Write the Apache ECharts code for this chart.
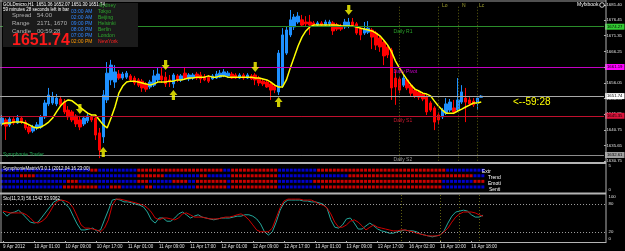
<!DOCTYPE html>
<html><head><meta charset="utf-8">
<script src="https://cdn.jsdelivr.net/npm/echarts@6/dist/echarts.min.js"></script>
<style>html,body{margin:0;padding:0;background:#000;}#c{width:625px;height:251px;}</style>
</head><body><div id="c"></div><script>
const timeLabels = ['9 Apr 2012','10 Apr 01:00','10 Apr 09:00','10 Apr 17:00','11 Apr 01:00','11 Apr 09:00','11 Apr 17:00','12 Apr 01:00','12 Apr 09:00','12 Apr 17:00','13 Apr 01:00','13 Apr 09:00','13 Apr 17:00','16 Apr 02:00','16 Apr 10:00','16 Apr 18:00'];
const opens = [1642.7,1644.0,1642.4,1644.3,1643.0,1644.6,1643.3,1641.7,1640.4,1641.4,
1641.7,1645.0,1649.2,1649.5,1649.2,1650.8,1649.8,1647.2,1646.6,1645.3,
1644.0,1642.7,1643.7,1645.0,1644.6,1639.8,1638.5,1650.5,1657.0,1656.3,
1658.9,1657.6,1657.9,1658.3,1657.6,1657.0,1656.6,1655.7,1654.7,1655.3,
1657.0,1658.3,1657.9,1657.0,1655.7,1658.3,1657.0,1659.2,1657.3,1657.6,
1658.9,1658.6,1657.9,1657.9,1657.3,1657.6,1657.9,1658.3,1658.3,1658.9,
1658.6,1657.6,1658.6,1657.6,1658.3,1658.6,1657.6,1656.6,1656.3,1655.7,
1655.0,1653.1,1655.0,1665.7,1671.6,1674.2,1675.8,1676.5,1675.8,1675.8,
1675.5,1674.8,1675.5,1674.8,1675.2,1675.5,1674.8,1674.5,1674.2,1674.5,
1675.8,1675.2,1673.8,1672.2,1672.5,1673.2,1672.2,1670.6,1669.3,1667.7,
1666.7,1657.6,1657.3,1655.3,1657.0,1655.3,1653.7,1653.1,1652.4,1651.4,
1649.5,1647.9,1645.6,1645.0,1646.2,1647.2,1647.9,1647.2,1649.8,1651.1,
1650.5,1650.1,1649.5,1651.36];
const closes = [1644.6,1642.0,1644.3,1643.0,1644.6,1643.3,1641.4,1640.1,1641.7,1642.4,
1645.0,1649.5,1652.1,1651.4,1651.1,1648.9,1646.6,1645.0,1644.0,1642.7,
1641.7,1644.6,1645.3,1644.0,1639.1,1634.2,1652.1,1659.2,1661.8,1659.6,
1657.6,1658.9,1659.2,1657.0,1656.0,1655.3,1654.4,1654.0,1656.3,1658.3,
1658.9,1657.0,1655.7,1656.3,1658.6,1657.0,1658.3,1657.6,1658.6,1658.6,
1657.6,1657.3,1657.0,1656.6,1658.3,1658.9,1659.2,1659.6,1659.2,1657.6,
1657.6,1658.6,1657.6,1658.6,1657.3,1657.0,1656.0,1655.7,1654.7,1653.7,
1653.7,1665.7,1671.6,1673.2,1676.5,1677.4,1677.7,1674.8,1675.2,1674.8,
1674.8,1675.5,1674.8,1675.8,1675.8,1672.9,1673.5,1673.5,1675.8,1675.8,
1674.8,1672.2,1671.6,1673.5,1673.8,1670.9,1668.3,1667.7,1664.8,1665.1,
1654.4,1654.7,1653.7,1657.6,1654.4,1652.7,1651.8,1651.4,1650.8,1646.6,
1647.2,1643.3,1644.0,1647.2,1649.2,1649.8,1646.6,1650.5,1653.1,1649.8,
1649.2,1648.9,1651.1,1651.74];
const highs = [1645.6,1644.6,1644.9,1644.9,1645.6,1645.3,1644.0,1642.4,1642.4,1643.3,
1645.6,1650.5,1654.4,1653.1,1652.4,1651.8,1650.8,1648.5,1647.2,1645.9,
1645.3,1645.3,1646.2,1645.6,1645.3,1641.4,1653.7,1662.8,1663.5,1661.8,
1660.2,1659.6,1659.9,1658.9,1658.3,1657.6,1657.3,1656.3,1657.0,1660.2,
1660.9,1661.2,1659.6,1658.6,1659.2,1658.9,1658.9,1661.2,1659.2,1659.2,
1659.6,1659.6,1658.9,1658.6,1658.9,1659.9,1660.2,1660.5,1659.9,1659.6,
1659.2,1659.2,1659.2,1659.2,1658.9,1659.2,1658.3,1657.3,1657.0,1656.3,
1655.7,1666.7,1673.8,1674.2,1679.7,1678.4,1679.0,1678.1,1677.7,1678.1,
1676.1,1676.1,1676.1,1676.5,1676.5,1676.1,1675.5,1675.2,1676.8,1677.1,
1677.1,1675.8,1674.5,1675.8,1676.1,1673.8,1672.9,1671.6,1669.9,1668.3,
1667.4,1660.2,1657.9,1658.6,1657.6,1656.0,1654.4,1653.7,1653.1,1652.1,
1650.1,1648.5,1646.2,1647.9,1651.1,1650.8,1650.5,1657.6,1655.3,1654.4,
1651.4,1651.1,1651.8,1652.07];
const lows = [1642.0,1637.5,1641.7,1642.4,1642.7,1642.7,1640.7,1639.4,1639.8,1640.7,
1641.1,1644.3,1648.5,1648.9,1648.5,1648.2,1645.9,1644.0,1643.3,1641.7,
1640.7,1642.0,1643.0,1643.3,1637.5,1631.6,1636.5,1649.5,1655.3,1654.4,
1657.0,1657.0,1657.3,1656.3,1655.3,1654.7,1653.1,1653.1,1654.0,1654.7,
1656.3,1656.0,1654.7,1654.7,1654.4,1656.3,1656.3,1657.0,1656.6,1657.0,
1657.0,1656.0,1656.6,1656.0,1657.0,1657.3,1657.6,1657.9,1657.6,1657.3,
1657.3,1657.3,1657.0,1657.3,1657.0,1655.3,1655.0,1655.0,1654.4,1650.5,
1652.7,1652.1,1654.4,1665.1,1670.9,1673.2,1675.2,1674.2,1674.5,1671.6,
1674.2,1674.2,1674.5,1674.2,1674.5,1671.6,1672.9,1672.9,1673.5,1673.8,
1674.2,1671.6,1669.9,1671.6,1671.9,1667.0,1666.7,1666.1,1661.8,1664.1,
1650.5,1648.9,1652.7,1654.7,1653.7,1651.8,1651.1,1650.5,1650.1,1645.6,
1646.6,1640.7,1642.7,1644.3,1645.6,1646.6,1645.9,1646.6,1649.2,1643.3,
1648.5,1648.2,1647.2,1651.30];
const maValues = [1642.7,1643.0,1643.0,1643.3,1643.3,1643.3,1643.0,1642.4,1641.7,1641.4,
1641.7,1642.4,1643.3,1644.6,1646.6,1648.5,1649.8,1650.5,1650.2,1649.2,
1648.2,1647.2,1646.2,1645.6,1645.6,1644.0,1642.4,1641.4,1644.6,1648.2,
1652.7,1655.0,1656.3,1656.6,1656.6,1656.3,1656.0,1655.7,1655.3,1655.7,
1656.3,1656.3,1656.3,1656.6,1656.6,1657.0,1657.0,1657.3,1657.6,1657.6,
1657.9,1657.9,1657.9,1658.3,1657.9,1657.9,1658.3,1658.3,1657.9,1657.9,
1657.9,1657.9,1657.9,1657.9,1657.9,1657.6,1657.6,1657.3,1657.0,1656.3,
1655.3,1654.7,1654.7,1657.0,1660.9,1664.4,1668.0,1670.9,1672.9,1674.2,
1674.8,1674.8,1674.8,1674.8,1674.8,1674.8,1674.8,1674.5,1674.5,1674.5,
1674.5,1674.2,1673.8,1673.5,1673.2,1672.9,1672.2,1671.3,1669.9,1668.3,
1666.1,1663.1,1660.9,1658.9,1657.0,1655.3,1654.0,1653.4,1652.7,1652.4,
1651.8,1650.1,1648.5,1647.2,1646.2,1646.2,1646.2,1646.9,1647.5,1648.2,
1648.8,1649.5,1649.5,1649.8];
const stochMain = [63,54,61,63,67,59,50,41,39,41,
52,63,74,85,89,89,80,72,54,37,
24,24,26,28,22,24,46,67,89,91,
89,85,85,83,80,78,74,63,46,39,
50,50,43,43,50,59,63,57,50,54,
57,52,50,48,46,48,50,50,50,52,
54,54,57,57,54,48,37,20,13,20,
41,67,83,89,89,89,89,87,87,85,
85,83,80,72,46,30,28,35,48,50,
39,26,26,33,39,33,26,22,20,17,
17,20,22,24,22,22,20,15,13,11,
9,11,13,22,39,54,63,65,67,65,
57,52,52,56.15];
const stochSignal = [65,63,61,61,61,61,57,50,41,39,
43,50,63,78,87,89,87,83,72,54,
35,28,28,26,24,20,28,46,78,91,
91,89,87,85,83,80,78,72,63,50,
46,50,50,48,46,50,59,61,57,52,
52,52,50,48,48,48,50,52,52,54,
57,59,54,46,35,24,20,20,20,28,
50,72,87,91,91,91,91,89,89,89,
85,80,78,72,59,41,30,30,35,43,
46,41,33,24,30,35,30,28,26,24,
22,22,24,24,22,20,17,15,13,11,
11,11,13,20,28,41,52,59,63,63,
63,61,57,53.94];
const matrixExtr  = "BBBBBBBBBB BBBBBBBBBB BBBRRBBBBB BBBBBRRRRR RRRRRRRRRR RRRRRRRBBR RRRRRRRRRR RBBBBBBBBB BRRRRRRRRR RRRRRRRRRR RRRRRRRRRR RRRRBBBBBB BBBB";
const matrixTrend = "BBBBBRRRRB BBBBBBBBBB BBBBBBBBBB BBBBBRRRRR RRBBBBBBBB BRRBBBBBBR RRRRRRRRRR RBBBBBBBBB BBBBBBBBBR RRRRRRRRRR RRRRRRRRRR RRRRRRRRRR RBBB";
const matrixEmoti = "BBBBBBBBBB BBBBBBBRRR BBBBBBBBBB BBBBBRRRBB BBBBRRRRBB RRRRRRRRBR RRRRRRRRRR RBBBBBBBBB RRRRRRRRRR RRRRRRRRRR RRRRRRRRRR RRRBBBBBBB BRRR";
const matrixSenti = "BBBBBBBBBB BBBBBBRRRR RRRRRBBBRR RBBBBBBRRB BBBBBBBBBB RRRRRRRRBR RRRRRRRRRR RBBBBBBBBB BBRRRRRRRR RRRRRRRRRR RRRRRRRRRR RRRBBBBBBB BBBB";
const matrixNames = ['Extr','Trend','Emoti','Senti'];
const matrixLevels = [3.9, 2.9, 1.9, 0.9];
const priceTicks = [1630.75,1635.65,1640.75,1645.85,1650.95,1656.05,1661.15,1666.25,1671.35,1676.45,1681.40];
const matrixTicks = [0,5];
const stochTicks = [0,20,80,100];
const levelR1 = 1674.27, levelPivot = 1661.19, levelBid = 1651.74, levelS1 = 1645.35, levelS2 = 1632.61;
const downArrows = [[20,1647.55],[42,1661.84],[65,1661.19],[89,1679.69]];
const upArrows = [[26,1633.59],[44,1652.09],[71,1649.82]];
const sessionLines = [102,112,117,122];

const F = '"Liberation Sans", Arial, sans-serif';
const nSlots = 155;
const cats = Array.from({length:nSlots},(_,i)=>String(i));
const candleData = opens.map((o,i)=>[o, closes[i], lows[i], highs[i]]);
const mRed=[], mBlue=[];
[matrixExtr,matrixTrend,matrixEmoti,matrixSenti].forEach((s,r)=>{
  s.replace(/\s/g,'').split('').forEach((ch,i)=>{ (ch==='R'?mRed:mBlue).push([i, matrixLevels[r]]); });
});

function lvl(v, lineColor, boxBg, boxText, name, nameColor){
  return [
    {yAxis:v, lineStyle:{color:lineColor,width:1,type:'solid'},
     label:{show:true, position:'end', distance:1, formatter:v.toFixed(2), backgroundColor:boxBg, color:boxText, fontSize:4.3, fontFamily:F, padding:[1,2,1,2]}},
    name ? [{coord:[100,v], lineStyle:{color:'transparent',width:1},
      label:{show:true, position:'insideStartBottom', distance:2, formatter:name, color:nameColor, fontSize:5, fontFamily:F}},
     {coord:[154,v]}] : null
  ].filter(Boolean);
}
const levelData = [].concat(
  lvl(levelR1,'#2a8c2a','#33cc33','#000','Daily R1','#2aa52a'),
  lvl(levelPivot,'#c400c4','#ff00ff','#000','Daily Pivot','#d000d0'),
  lvl(levelBid,'#a8a8a8','#ffffff','#000',null,null),
  lvl(levelS1,'#c0102e','#dc143c','#000','Daily S1','#c81a30'),
  lvl(levelS2,'#8c8c8c','#a0a0a0','#000','Daily S2','#9a9a9a')
);
const vLines = sessionLines.map(i=>({xAxis:i}));
const vStyle = {color:'#5e5e10', width:1, type:[1,2]};

function T(x,y,text,color,size,weight){
  return {type:'text', x:x, y:y, z:200, style:{text:text, fill:color, fontSize:size, fontFamily:F, fontWeight:weight||'normal', textVerticalAlign:'middle', verticalAlign:'middle'}};
}
function L(x1,y1,x2,y2,color,w,dash){
  return {type:'line', z:150, shape:{x1:x1,y1:y1,x2:x2,y2:y2}, style:{stroke:color, lineWidth:w, lineDash:dash||null}};
}
const graphics = [
  L(0,1,606,1,'#a0a0a0',1), L(1,0,1,243,'#a0a0a0',1), L(606,0,606,243,'#b0b0b0',1),
  L(0,163,606,163,'#b4b4b4',2), L(0,193.5,606,193.5,'#b4b4b4',2), L(0,242.5,606,242.5,'#b4b4b4',1),
  {type:'rect', z:180, shape:{x:3,y:3,width:135,height:44}, style:{fill:'#1b1b1b'}},
  T(3,5,'GOLDmicro,H1  1651.36 1652.07 1651.30 1651.74','#ffffff',4.5),
  T(3,9.5,'59 minutes 28 seconds left in bar','#ffffff',4.5),
  T(12,15,'Spread','#b0b0b0',6), T(37,15,'54.00','#b0b0b0',6),
  T(12,23,'Range','#b0b0b0',6), T(37,23,'2171, 1670','#b0b0b0',6),
  T(12,31,'Candle','#b0b0b0',6), T(37,31,'00:59:28','#b0b0b0',6),
  T(12,41,'1651.74','#ff1a1a',16,'bold'),
  T(71,12,'03:00 AM','#2f86ff',5), T(71,18,'02:00 AM','#2f86ff',5), T(71,24,'09:00 PM','#2f86ff',5),
  T(71,30,'08:00 PM','#2f86ff',5), T(71,36,'07:00 PM','#2f86ff',5), T(71,42,'02:00 PM','#ff9900',5),
  T(99,6,'Sydney','#2eaa2e',5), T(98,12,'Tokyo','#2eaa2e',5), T(98,18,'Beijing','#2eaa2e',5),
  T(98,24,'Helsinki','#2eaa2e',5), T(98,30,'Berlin','#2eaa2e',5), T(98,36,'London','#2eaa2e',5),
  T(98,42,'NewYork','#ff2020',5),
  T(577,5,'Myfxbook','#ffffff',5),
  {type:'circle', z:200, shape:{cx:602,cy:5,r:2.3}, style:{fill:'none', stroke:'#ffffff', lineWidth:0.8}},
  T(442,6,'Lo','#a0a030',5), T(462,6,'N','#a0a030',5), T(479,6,'Lc','#a0a030',5),
  T(3,155,'Symphonie Trader','#22aa55',5),
  T(513,102,'<--59:28','#ffff00',10),
  T(3,169,'SymphonieMatrixV3.0.1 (2012.04.16 23:00)','#ffffff',4.5),
  T(482,172,matrixNames[0],'#ffffff',5), T(488,178,matrixNames[1],'#ffffff',5),
  T(488,184,matrixNames[2],'#ffffff',5), T(489,190,matrixNames[3],'#ffffff',5),
  T(3,199,'Sto(11,3,3) 56.1542 53.9362','#ffffff',4.5)
];

const tickShow = (i)=> i%8===0 && i/8 < timeLabels.length;
const option = {
  backgroundColor:'#000', animation:false,
  grid:[
    {left:0, width:606, top:4.75, height:156},
    {left:0, width:606, top:164, height:28},
    {left:0, width:606, top:195, height:46}
  ],
  xAxis:[0,1,2].map(g=>({
    type:'category', gridIndex:g, data:cats, boundaryGap:true,
    axisLine:{show:false},
    axisTick:{show:g===2, alignWithLabel:true, interval:tickShow, length:2, lineStyle:{color:'#b0b0b0'}},
    axisLabel:{show:g===2, interval:tickShow, formatter:(v,i)=>timeLabels[i/8], align:'left', color:'#e0e0e0', fontSize:4.5, fontFamily:F, margin:3},
    splitLine:{show:false}
  })),
  yAxis:[
    {type:'value', gridIndex:0, position:'right', min:1630.75, max:1681.40,
     axisLine:{show:false}, axisTick:{show:true, customValues:priceTicks, length:2, lineStyle:{color:'#b0b0b0'}},
     axisLabel:{customValues:priceTicks, formatter:v=>v.toFixed(2), color:'#e0e0e0', fontSize:4.3, fontFamily:F, margin:2.5},
     splitLine:{show:false}},
    {type:'value', gridIndex:1, position:'right', min:0, max:5,
     axisLine:{show:false}, axisTick:{show:false},
     axisLabel:{customValues:matrixTicks, color:'#e0e0e0', fontSize:4.3, fontFamily:F, margin:2.5, verticalAlignMinLabel:'bottom', verticalAlignMaxLabel:'top'},
     splitLine:{show:false}},
    {type:'value', gridIndex:2, position:'right', min:0, max:100,
     axisLine:{show:false}, axisTick:{show:false},
     axisLabel:{customValues:stochTicks, color:'#e0e0e0', fontSize:4.3, fontFamily:F, margin:2.5, verticalAlignMinLabel:'bottom', verticalAlignMaxLabel:'top'},
     splitLine:{show:false}}
  ],
  series:[
    {type:'candlestick', xAxisIndex:0, yAxisIndex:0, data:candleData, barWidth:3, silent:true,
     itemStyle:{color:'#1e90ff', color0:'#ff0000', borderColor:'#1e90ff', borderColor0:'#ff0000', borderWidth:1},
     markLine:{symbol:['none','none'], silent:true, label:{show:false}, lineStyle:vStyle, data:vLines}},
    {type:'line', xAxisIndex:0, yAxisIndex:0, data:maValues, symbol:'none', z:4,
     lineStyle:{color:'#ffff00', width:1.5}, silent:true,
     markLine:{symbol:['none','none'], silent:true, data:levelData}},
    {type:'scatter', xAxisIndex:0, yAxisIndex:0, data:downArrows, z:5, silent:true,
     symbol:'path://M3,0 H7 V5 H10 L5,10 L0,5 H3 Z', symbolSize:[8,10], itemStyle:{color:'#ffff00'}},
    {type:'scatter', xAxisIndex:0, yAxisIndex:0, data:upArrows, z:5, silent:true,
     symbol:'path://M5,0 L10,5 H7 V10 H3 V5 H0 Z', symbolSize:[8,10], itemStyle:{color:'#ffff00'}},
    {type:'scatter', xAxisIndex:1, yAxisIndex:1, data:mRed, symbol:'rect', symbolSize:[3,3], silent:true, itemStyle:{color:'#ff0000'}},
    {type:'scatter', xAxisIndex:1, yAxisIndex:1, data:mBlue, symbol:'rect', symbolSize:[3,3], silent:true, itemStyle:{color:'#0000ff'}},
    {type:'line', xAxisIndex:2, yAxisIndex:2, data:stochMain, symbol:'none', silent:true,
     lineStyle:{color:'#24a89c', width:1},
     markLine:{symbol:['none','none'], silent:true, label:{show:false},
       data:[{yAxis:80, lineStyle:{color:'#a0a0a0',width:1,type:[1,2]}},{yAxis:20, lineStyle:{color:'#a0a0a0',width:1,type:[1,2]}}].concat(sessionLines.map(i=>({xAxis:i, lineStyle:vStyle})))}},
    {type:'line', xAxisIndex:2, yAxisIndex:2, data:stochSignal, symbol:'none', silent:true,
     lineStyle:{color:'#d00000', width:1}}
  ],
  graphic:graphics
};
const chart = echarts.init(document.getElementById('c'), null, {renderer:'canvas'});
chart.setOption(option);
</script></body></html>
